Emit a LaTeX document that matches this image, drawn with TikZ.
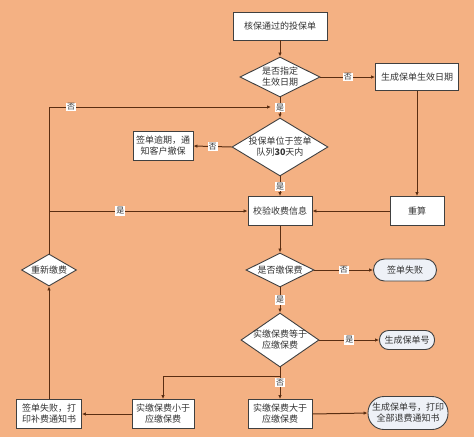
\documentclass[tikz,border=0pt]{standalone}
\usepackage{fontspec}
\newfontfamily\cjk{Noto Sans CJK SC}
\usetikzlibrary{shapes.geometric,arrows.meta}
\definecolor{bgorange}{HTML}{F4B183}
\definecolor{linebrown}{HTML}{5A2E12}
\definecolor{termfill}{HTML}{EEF1F7}
\definecolor{boxtext}{HTML}{333333}
\tikzset{
  procbox/.style={draw=black!75, fill=white, line width=0.9pt, inner sep=1pt, align=center,
    minimum height=29pt, text=boxtext, font=\cjk\fontsize{9}{11}\selectfont},
  decide/.style={diamond, draw=black!75, fill=white, line width=0.9pt, inner sep=0pt},
  decidetext/.style={align=center, text=boxtext, font=\cjk\fontsize{9}{11}\selectfont},
  term/.style={draw=black!75, fill=termfill, line width=0.9pt, inner sep=1pt, align=center,
    text=boxtext, font=\cjk\fontsize{9}{11}\selectfont},
  flow/.style={-{Latex[length=4pt,width=3.5pt]}, linebrown, line width=1pt},
  yn/.style={fill=white, inner sep=1pt, text=boxtext, font=\cjk\fontsize{8}{9}\selectfont}
}
\begin{document}
\begin{tikzpicture}[x=1pt,y=-1pt]
  \fill[bgorange] (0,0) rectangle (474,437);
  \useasboundingbox (0,0) rectangle (474,437);
  % main column
  \node[procbox, minimum width=94pt, minimum height=28pt] (start) at (280,26) {核保通过的投保单};
  \node[decide, minimum width=80pt, minimum height=40pt,
    label={[decidetext]center:是否指定\\生效日期}] (d1) at (280,77) {};
  \node[decide, minimum width=96pt, minimum height=58pt,
    label={[decidetext]center:投保单位于签单\\队列\textbf{30}天内}] (d2) at (280,147) {};
  \node[procbox, minimum width=64pt] (check) at (280,211) {校验收费信息};
  \node[decide, minimum width=68pt, minimum height=34pt,
    label={[decidetext]center:是否缴保费}] (paid) at (280,270) {};
  \node[decide, minimum width=78pt, minimum height=54pt,
    label={[decidetext]center:实缴保费等于\\应缴保费}] (equal) at (280,340) {};
  \node[procbox, minimum width=64pt] (more) at (280,414) {实缴保费大于\\应缴保费};
  % right column
  \node[procbox, minimum width=83pt, minimum height=27pt] (gendate) at (417,77) {生成保单生效日期};
  \node[procbox, minimum width=54pt] (recalc) at (417,211) {重算};
  \node[term, rounded corners=11pt, minimum width=63pt, minimum height=22pt] (fail) at (405,270) {签单失败};
  \node[term, rounded corners=9pt, minimum width=55pt, minimum height=19pt] (genno) at (407,340) {生成保单号};
  \node[term, rounded corners=16pt, minimum width=80pt, minimum height=33pt] (refund) at (408,413) {生成保单号，打印\\全部退费通知书};
  % left side
  \node[procbox, minimum width=60pt] (overdue) at (163,146) {签单逾期，通\\知客户撤保};
  \node[procbox, minimum width=62pt] (less) at (163,414) {实缴保费小于\\应缴保费};
  \node[procbox, minimum width=65pt] (failprint) at (49,414) {签单失败，打\\印补费通知书};
  \node[decide, minimum width=55pt, minimum height=32pt,
    label={[decidetext]center:重新缴费}] (repay) at (49,270) {};
  \coordinate (join) at (271,107);
  \coordinate (split) at (280,376);
  % connectors
  \draw[flow] (start) -- (d1);
  \draw[flow] (d1.east) -- node[yn]{否} (gendate.west);
  \draw[flow] (gendate.south) -- (recalc.north);
  \draw[flow] (recalc.west) -- (check.east);
  \draw[flow] (d2.west) -- node[yn]{否} (overdue.east);
  \draw[flow] (d2.south) -- node[yn]{是} (check.north);
  \draw[flow] (check.south) -- (paid.north);
  \draw[flow] (paid.east) -- node[yn]{否} (fail.west);
  \draw[flow] (paid.south) -- node[yn]{是} (equal.north);
  \draw[flow] (equal.east) -- node[yn]{是} (genno.west);
  \draw[linebrown, line width=1pt] (equal.south) -- (split);
  \draw[flow] (split) -| (less.north);
  \draw[flow] (split) -- node[yn, pos=0.3]{否} (more.north);
  \draw[flow] (less.west) -- (failprint.east);
  \draw[flow] (more.east) -- (refund.west);
  \draw[flow] (failprint.north) -- (repay.south);
  \draw[flow] (repay.north) |- node[yn, pos=0.68]{是} (check.west);
  \draw[flow] (repay.north) |- node[yn, pos=0.55]{否} (join);
  \draw[flow] (d1.south) -- node[yn]{是} (d2.north);
\end{tikzpicture}
\end{document}
